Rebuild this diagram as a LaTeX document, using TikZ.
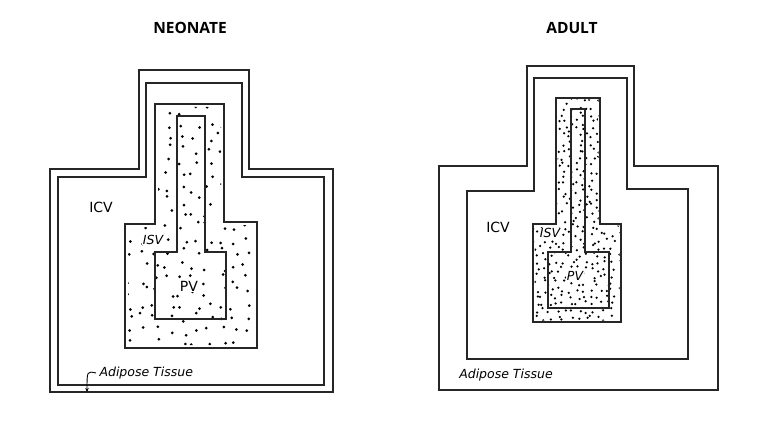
\documentclass[tikz,border=0pt]{standalone}
\usepackage{fontspec}
\newfontfamily\titlefont{Open Sans}
\newfontfamily\handfont{DejaVu Sans}
\usetikzlibrary{arrows.meta}
\begin{document}
\begin{tikzpicture}[x=1pt,y=-1pt,
  outline/.style={draw=black!85,line width=1.3pt,line join=miter},
  title/.style={font=\titlefont\bfseries\fontsize{15.5}{18}\selectfont},
  hand/.style={font=\handfont\fontsize{14}{16}\selectfont},
  handsmall/.style={font=\handfont\itshape\fontsize{12.5}{14}\selectfont},
  dot/.style={fill=black}]
\useasboundingbox[fill=white] (0,0) rectangle (760,425);
% ---------- NEONATE ----------
\node[title] (t1) at (190,28) {NEONATE};
\begin{scope}
\clip (158,107) -- (221,107) -- (221,225) -- (254,225) -- (254,345) -- (128,345) -- (128,227) -- (158,227) -- cycle;
\pgfmathsetseed{7}
\foreach \gx in {130,143,...,255}{
  \foreach \gy in {110,123,...,346}{
    \pgfmathsetmacro\xx{\gx+rand*5}
    \pgfmathsetmacro\yy{\gy+rand*5}
    \fill[dot] (\xx,\yy) circle (1.5);
  }
}
\end{scope}
\draw[outline] (50,169) -- (139,169) -- (139,70) -- (249,70) -- (249,169) -- (333,169) -- (333,392) -- (50,392) -- cycle;
\draw[outline] (58,177) -- (146,177) -- (146,83) -- (242,83) -- (242,177) -- (324,177) -- (324,385) -- (58,385) -- cycle;
\draw[outline] (155,104) -- (224,104) -- (224,222) -- (257,222) -- (257,348) -- (125,348) -- (125,224) -- (155,224) -- cycle;
\draw[outline] (177,116) -- (205,116) -- (205,252) -- (226,252) -- (226,319) -- (155,319) -- (155,252) -- (177,252) -- cycle;
\node[hand] (icv1) at (101,207) {ICV};
\node[handsmall,fill=white,inner sep=0.5pt] (isv1) at (153,240) {ISV};
\node[hand,fill=white,inner sep=0.5pt] (pv1) at (189,286) {PV};
\node[handsmall,anchor=west] (ad1) at (96,373) {Adipose Tissue};
\coordinate (adend) at (87,392);
\draw[line width=0.9pt,-{Stealth[length=4pt,width=3.5pt]}] (ad1.west) .. controls (87,371) .. (adend);
% ---------- ADULT ----------
\node[title] (t2) at (572,28) {ADULT};
\begin{scope}
\clip (557.5,99.5) -- (598.5,99.5) -- (598.5,225.5) -- (619.5,225.5) -- (619.5,320.5) -- (534.5,320.5) -- (534.5,225.5) -- (557.5,225.5) -- cycle;
\pgfmathsetseed{11}
\foreach \gx in {536,543,...,622}{
  \foreach \gy in {101,108,...,322}{
    \pgfmathsetmacro\xx{\gx+rand*3}
    \pgfmathsetmacro\yy{\gy+rand*3}
    \fill[dot] (\xx,\yy) circle (1.25);
  }
}
\end{scope}
\draw[outline] (439,166) -- (527,166) -- (527,66) -- (634,66) -- (634,166) -- (718,166) -- (718,390) -- (439,390) -- cycle;
\draw[outline] (467,191) -- (534,191) -- (534,78) -- (627,78) -- (627,189) -- (688,189) -- (688,359) -- (467,359) -- cycle;
\draw[outline] (556,98) -- (600,98) -- (600,224) -- (621,224) -- (621,322) -- (533,322) -- (533,224) -- (556,224) -- cycle;
\draw[outline] (571,109) -- (585,109) -- (585,252) -- (609,252) -- (609,308) -- (548,308) -- (548,252) -- (571,252) -- cycle;
\node[hand] (icv2) at (498,227) {ICV};
\node[handsmall,fill=white,inner sep=0.5pt] (isv2) at (550,233) {ISV};
\node[handsmall,fill=white,inner sep=0.5pt] (pv2) at (575,276) {PV};
\node[handsmall] (ad2) at (506,375) {Adipose Tissue};
\end{tikzpicture}
\end{document}
